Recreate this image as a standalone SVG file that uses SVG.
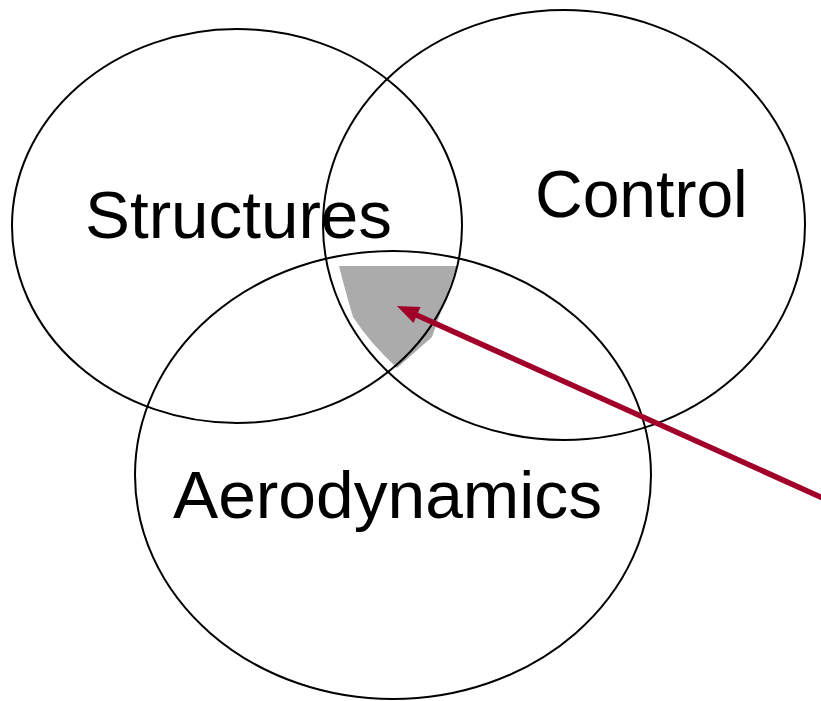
<svg xmlns="http://www.w3.org/2000/svg" width="821" height="701" viewBox="0 0 821 701">
<defs>
<style>
.c{fill:none;stroke:#000;stroke-width:2}
.t{font-family:"Liberation Sans",Arial,sans-serif;font-size:66px;fill:#000}
.a{stroke:#A0002A;stroke-width:5.5;fill:none}
.h{fill:#A0002A}
</style>
</defs>
<rect width="821" height="701" fill="#fff"/>
<g id="shade">
<path d="M339,266 L457,266 L432,337 L397,368 Q370,343 353,317 Q345,290 339,266 Z" fill="#ababab"/>
</g>
<g id="structures">
<ellipse class="c" cx="237" cy="226" rx="225" ry="197"/>
<text class="t" x="85" y="238" textLength="307" lengthAdjust="spacingAndGlyphs">Structures</text>
</g>
<g id="control">
<ellipse class="c" cx="564" cy="225" rx="241" ry="215"/>
<text class="t" x="535" y="217">Control</text>
</g>
<g id="aerodynamics">
<ellipse class="c" cx="393" cy="475" rx="258" ry="224"/>
<text class="t" x="173" y="518" textLength="429" lengthAdjust="spacingAndGlyphs">Aerodynamics</text>
</g>
<g id="connectors">
<line class="a" x1="825" y1="499" x2="412" y2="313"/>
<polygon class="h" points="397,306 413.5,323 420.5,307"/>
</g>
</svg>
